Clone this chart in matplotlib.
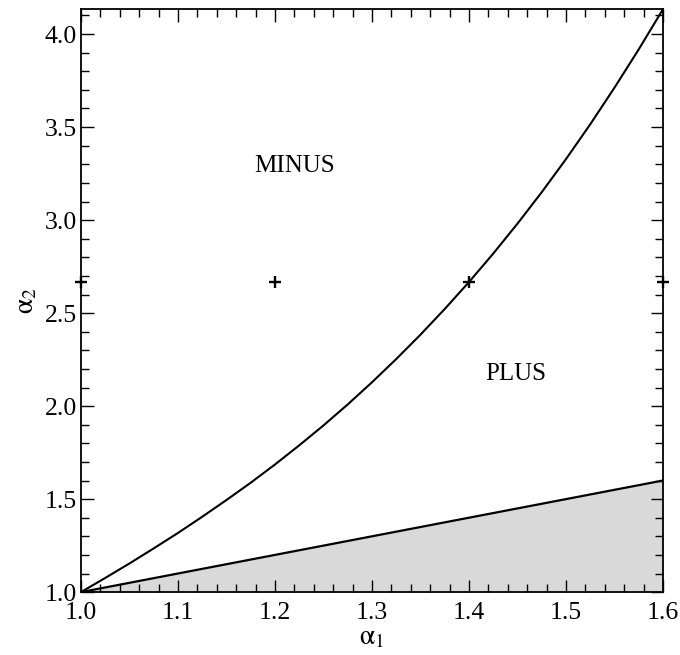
import numpy as np
import matplotlib
matplotlib.use('Agg')
import matplotlib.pyplot as plt
from matplotlib.ticker import MultipleLocator, FormatStrFormatter

# boundary curve alpha2(alpha1)
alpha1 = [1.000, 1.025, 1.050, 1.075, 1.100, 1.125, 1.150, 1.175, 1.200,
          1.225, 1.250, 1.275, 1.300, 1.325, 1.350, 1.375, 1.400, 1.425,
          1.450, 1.475, 1.500, 1.525, 1.550, 1.575, 1.600]
alpha2 = [1.000, 1.076, 1.154, 1.235, 1.318, 1.405, 1.495, 1.588, 1.686,
          1.789, 1.896, 2.009, 2.128, 2.253, 2.384, 2.522, 2.667, 2.820,
          2.981, 3.150, 3.328, 3.515, 3.712, 3.918, 4.134]

# lower line alpha2 = alpha1 (shaded below)
line_x = [1.0, 1.6]
line_y = [1.0, 1.6]

# marked points
mark_x = [1.0, 1.2, 1.4, 1.6]
mark_y = [2.667, 2.667, 2.667, 2.667]

region_labels = ['MINUS', 'PLUS']
label_x = [1.22, 1.448]
label_y = [3.29, 2.17]

plt.rcParams['font.family'] = ['Liberation Serif', 'DejaVu Serif']
plt.rcParams['mathtext.fontset'] = 'stix'

fig = plt.figure(figsize=(6.8, 6.55), dpi=100)
ax = fig.add_axes([0.119, 0.096, 0.856, 0.890])

ax.fill_between(line_x, [1.0, 1.0], line_y, color='#d9d9d9', lw=0)
ax.plot(line_x, line_y, color='black', lw=1.6)
ax.plot(alpha1, alpha2, color='black', lw=1.5)
ax.plot(mark_x, mark_y, ls='none', marker='+', color='black', ms=9, mew=1.7,
        clip_on=False, zorder=5)

for t, x, y in zip(region_labels, label_x, label_y):
    ax.text(x, y, t, ha='center', va='center', fontsize=18)

ax.set_xlim(1.0, 1.6)
ax.set_ylim(1.0, alpha2[-1])
ax.xaxis.set_major_locator(MultipleLocator(0.1))
ax.xaxis.set_minor_locator(MultipleLocator(0.02))
ax.yaxis.set_major_locator(MultipleLocator(0.5))
ax.yaxis.set_minor_locator(MultipleLocator(0.1))
ax.xaxis.set_major_formatter(FormatStrFormatter('%.1f'))
ax.yaxis.set_major_formatter(FormatStrFormatter('%.1f'))
ax.tick_params(which='both', direction='in', top=True, right=True, width=1,
               labelsize=18.5)
ax.tick_params(axis='x', pad=7)
ax.tick_params(axis='y', pad=3)
ax.tick_params(which='major', length=9)
ax.tick_params(which='minor', length=6)
for s in ax.spines.values():
    s.set_linewidth(1.3)

ax.set_xlabel(r'$\mathrm{\alpha}_1$', fontsize=20, labelpad=1)
ax.set_ylabel(r'$\mathrm{\alpha}_2$', fontsize=20, labelpad=4)

fig.savefig('out.png', dpi=100)
